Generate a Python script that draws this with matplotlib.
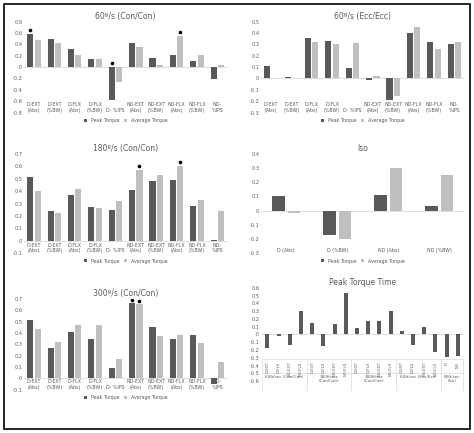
import numpy as np
import matplotlib.pyplot as plt

DARK = '#595959'
LIGHT = '#bfbfbf'

cats10 = ['D-EXT\n(Abs)', 'D-EXT\n(%BW)', 'D-FLX\n(Abs)', 'D-FLX\n(%BW)', 'D- %IPS',
          'ND-EXT\n(Abs)', 'ND-EXT\n(%BW)', 'ND-FLX\n(Abs)', 'ND-FLX\n(%BW)', 'ND-\n%IPS']

cc60_peak = [0.59, 0.50, 0.31, 0.14, -0.58, 0.43, 0.16, 0.21, 0.11, -0.21]
cc60_avg = [0.47, 0.42, 0.21, 0.15, -0.27, 0.35, 0.04, 0.55, 0.21, 0.03]
cc60_stars = [(0, 'p'), (4, 'p'), (7, 'a')]

ee60_peak = [0.11, 0.01, 0.36, 0.33, 0.09, -0.01, -0.19, 0.40, 0.32, 0.30]
ee60_avg = [0.005, 0.003, 0.32, 0.30, 0.31, 0.02, -0.15, 0.45, 0.26, 0.32]

cc180_peak = [0.51, 0.24, 0.37, 0.27, 0.25, 0.41, 0.48, 0.49, 0.28, 0.01]
cc180_avg = [0.40, 0.22, 0.42, 0.26, 0.32, 0.57, 0.53, 0.60, 0.33, 0.24]
cc180_stars = [(5, 'a'), (7, 'a')]

cc300_peak = [0.51, 0.27, 0.41, 0.35, 0.09, 0.66, 0.45, 0.35, 0.38, -0.05]
cc300_avg = [0.43, 0.32, 0.47, 0.47, 0.17, 0.65, 0.37, 0.38, 0.31, 0.14]
cc300_stars = [(5, 'p'), (5, 'a')]

iso_cats = ['D (Abs)', 'D (%BW)', 'ND (Abs)', 'ND (%BW)']
iso_peak = [0.10, -0.17, 0.11, 0.03]
iso_avg = [-0.02, -0.20, 0.30, 0.25]

ptt_labels = ['D-EXT', 'D-FLX', 'ND-EXT', 'ND-FLX'] * 4 + ['D', 'ND']
ptt_values = [-0.18, -0.02, -0.13, 0.30, 0.15, -0.15, 0.14, 0.53, 0.08, 0.17, 0.18, 0.30,
              0.05, -0.14, 0.10, -0.22, -0.29, -0.28]
ptt_groups = ['60ft/sec (Con/Con)', '180ft/sec\n(Con/Con)', '300ft/sec\n(Con/Con)',
              '60ft/sec (Ecc/Ecc)', '60ft/sec\n(Iso)']
ptt_group_sizes = [4, 4, 4, 4, 2]

plt.rcParams['font.family'] = 'DejaVu Sans'
fig = plt.figure(figsize=(4.74, 4.33), dpi=100)
fig.patches.append(plt.Rectangle((0.008, 0.01), 0.984, 0.98, transform=fig.transFigure,
                                 fill=False, lw=1.2, ec='black'))


def style(ax, ylim, step, title, fs=3.6):
    ax.set_ylim(*ylim)
    ax.set_yticks(np.round(np.arange(ylim[0], ylim[1] + 1e-9, step), 2))
    ax.set_yticklabels([f'{v:g}' for v in ax.get_yticks()])
    for s in ax.spines.values():
        s.set_visible(False)
    ax.axhline(0, color='#d9d9d9', lw=0.6, zorder=0)
    ax.tick_params(length=0, labelsize=fs, colors='#595959', pad=1)
    ax.set_title(title, fontsize=5.5, color='#595959', pad=2)


def paired(rect, cats, peak, avg, ylim, step, title, stars=(), w=0.3):
    ax = fig.add_axes(rect)
    x = np.arange(len(cats))
    ax.bar(x - w / 2 - 0.03, peak, w, color=DARK, label='Peak Torque')
    ax.bar(x + w / 2 + 0.03, avg, w, color=LIGHT, label='Average Torque')
    style(ax, ylim, step, title)
    ax.set_xticks([])
    for xi, c in zip(x, cats):
        ax.text(xi, ylim[0], c, ha='center', va='bottom', fontsize=3.4, color='#595959')
    for i, which in stars:
        xs = x[i] - w / 2 - 0.03 if which == 'p' else x[i] + w / 2 + 0.03
        v = peak[i] if which == 'p' else avg[i]
        off = (ylim[1] - ylim[0]) * 0.04
        ax.plot(xs, max(v, 0) + off, 'o', ms=1.6, color='black')
    ax.set_xlim(-0.5, len(cats) - 0.5)
    ax.legend(loc='upper center', bbox_to_anchor=(0.5, -0.01), ncol=2, frameon=False,
              fontsize=3.4, handlelength=0.6, handleheight=0.6, columnspacing=1,
              labelcolor='#595959')
    return ax


paired([0.05, 0.74, 0.43, 0.21], cats10, cc60_peak, cc60_avg, (-0.8, 0.8), 0.2,
       '60º/s (Con/Con)', cc60_stars)
paired([0.55, 0.74, 0.43, 0.21], cats10, ee60_peak, ee60_avg, (-0.3, 0.5), 0.1,
       '60º/s (Ecc/Ecc)')
paired([0.05, 0.415, 0.43, 0.23], cats10, cc180_peak, cc180_avg, (-0.1, 0.7), 0.1,
       '180º/s (Con/Con)', cc180_stars)
paired([0.55, 0.415, 0.43, 0.23], iso_cats, iso_peak, iso_avg, (-0.3, 0.4), 0.1,
       'Iso', w=0.25)
paired([0.05, 0.10, 0.43, 0.21], cats10, cc300_peak, cc300_avg, (-0.1, 0.7), 0.1,
       '300º/s (Con/Con)', cc300_stars)

# peak torque time
ax = fig.add_axes([0.55, 0.12, 0.43, 0.215])
x = np.arange(len(ptt_values))
ax.bar(x, ptt_values, 0.35, color=DARK)
style(ax, (-0.6, 0.6), 0.1, 'Peak Torque Time')
ax.set_xlim(-0.6, len(x) - 0.4)
ax.set_xticks([])
for xi, lab in zip(x, ptt_labels):
    ax.text(xi, -0.35, lab, rotation=90, ha='center', va='top', fontsize=2.8, color='#595959')
start = 0
for g, n in zip(ptt_groups, ptt_group_sizes):
    ax.text(start + (n - 1) / 2, -0.52, g, ha='center', va='top', fontsize=3.0,
            color='#595959', linespacing=1.0)
    ax.plot([start - 0.5] * 2, [-0.32, -0.72], color='#d9d9d9', lw=0.5, clip_on=False)
    start += n
ax.plot([start - 0.5] * 2, [-0.32, -0.72], color='#d9d9d9', lw=0.5, clip_on=False)
ax.plot([-0.5, start - 0.5], [-0.32, -0.32], color='#d9d9d9', lw=0.5, clip_on=False)
ax.plot([-0.5, start - 0.5], [-0.5, -0.5], color='#d9d9d9', lw=0.5, clip_on=False)

fig.savefig('out.png', dpi=100)
